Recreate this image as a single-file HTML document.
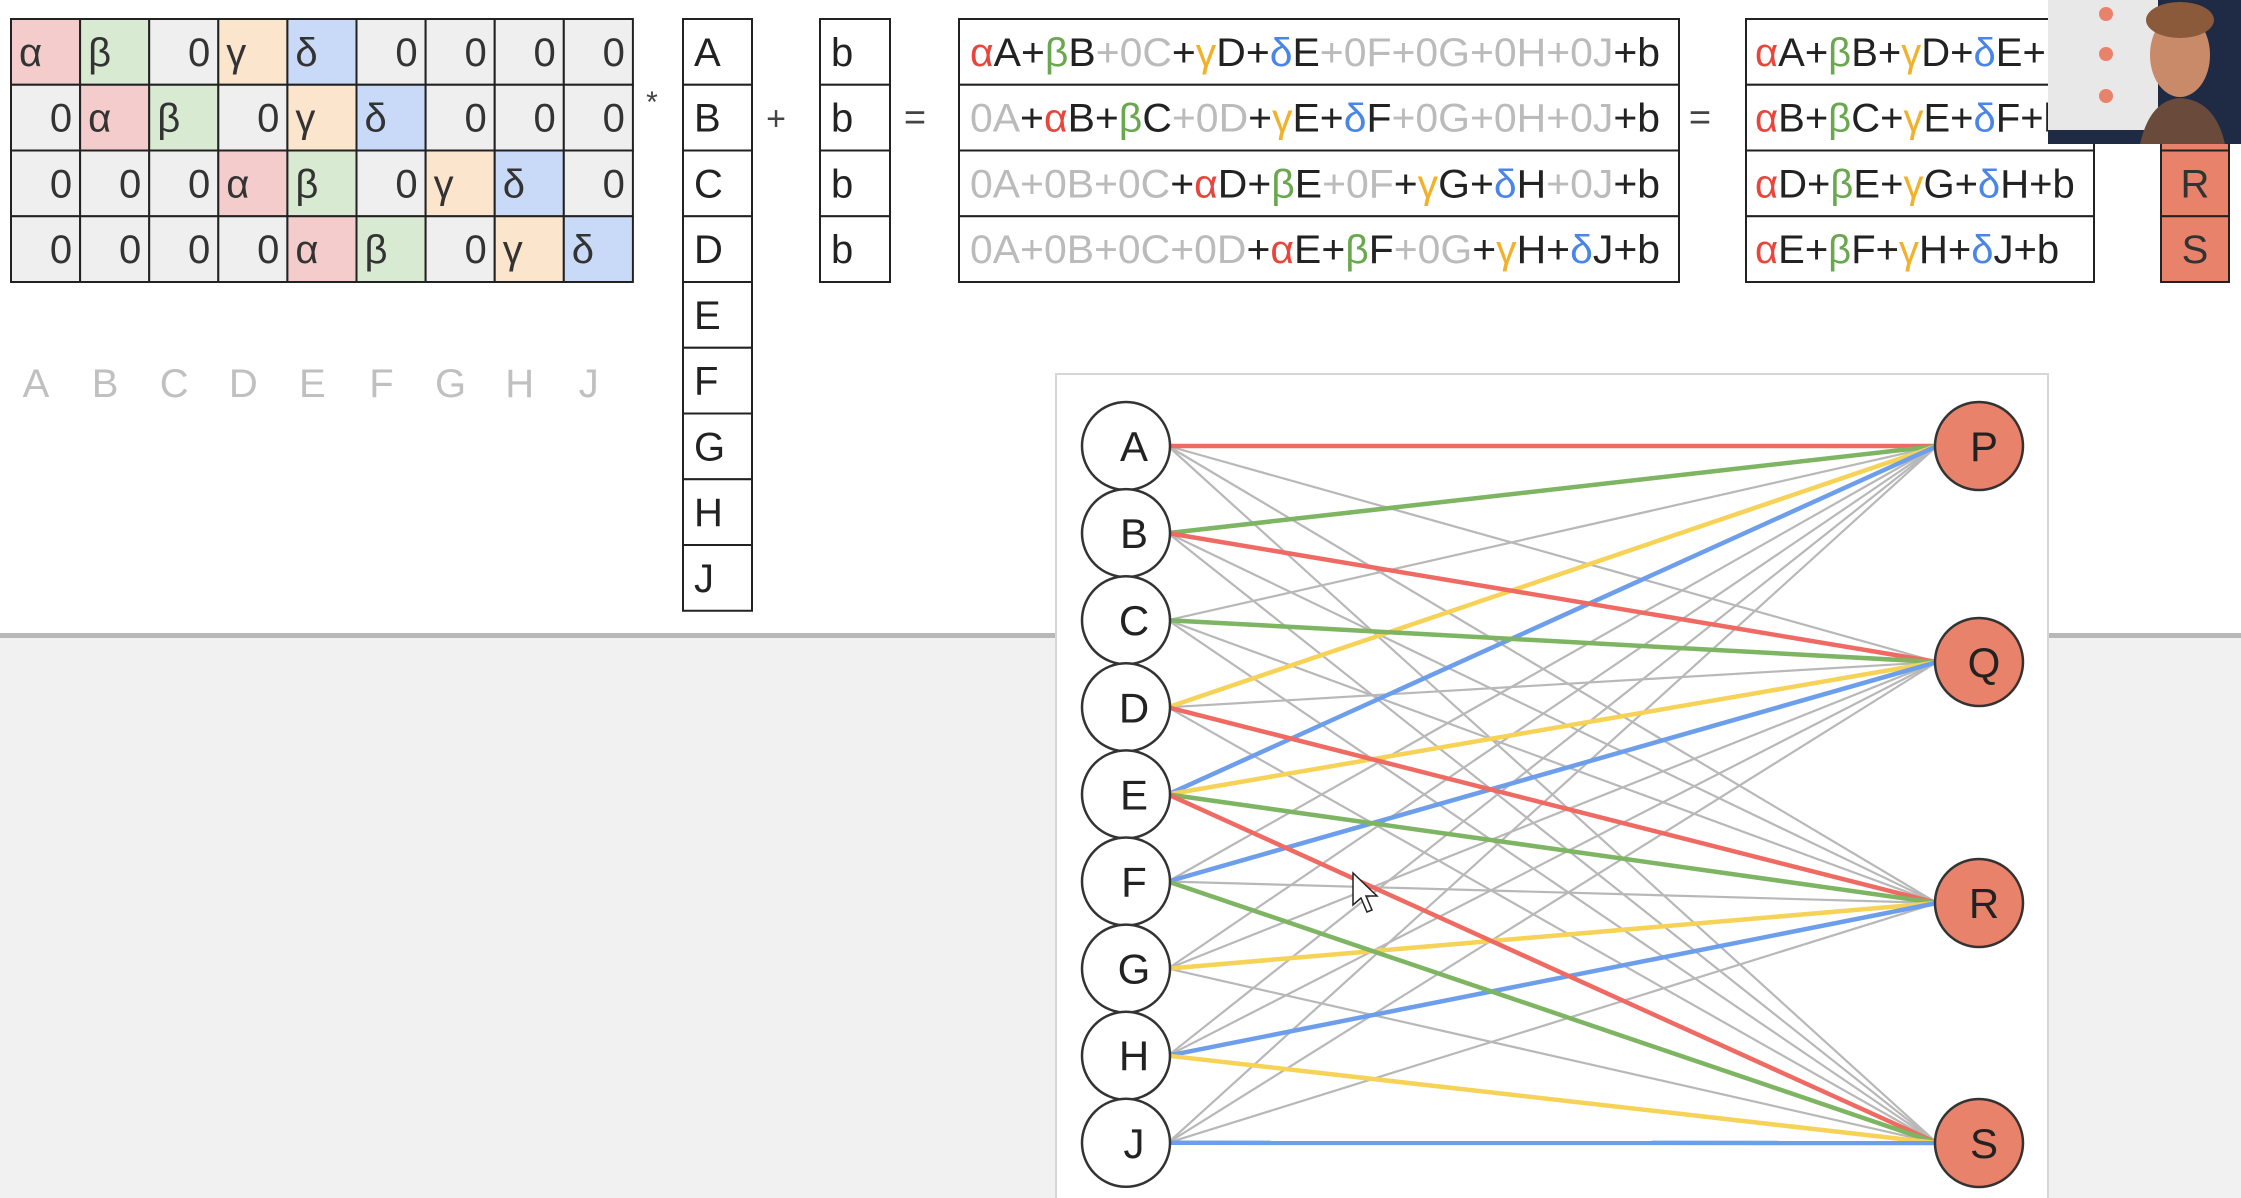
<!DOCTYPE html>
<html><head><meta charset="utf-8">
<style>
html,body{margin:0;padding:0;width:2241px;height:1198px;overflow:hidden;background:#fff;}
svg{display:block;font-family:"Liberation Sans","DejaVu Sans",sans-serif;}
</style></head>
<body>
<svg id="s" width="2241" height="1198" viewBox="0 0 2241 1198" xmlns="http://www.w3.org/2000/svg">
  <rect x="0" y="0" width="2241" height="636" fill="#ffffff"/>
  <rect x="0" y="636" width="2241" height="562" fill="#f1f1f1"/>
  <rect x="0" y="633" width="2241" height="5" fill="#b8b8b8"/>
  <g id="topg"></g>
  <rect x="1056" y="374" width="992" height="830" fill="#ffffff" stroke="#d6d6d6" stroke-width="2"/>
  <g id="graph"></g>
  <g>
    <rect x="2048" y="0" width="193" height="144" fill="#1f2a44"/>
    <rect x="2048" y="0" width="110" height="130" fill="#e8e8e8"/>
    <circle cx="2106" cy="14" r="7" fill="#e8826a"/>
    <circle cx="2106" cy="54" r="7" fill="#e8826a"/>
    <circle cx="2106" cy="96" r="7" fill="#e8826a"/>
    <ellipse cx="2180" cy="55" rx="30" ry="42" fill="#c98a6a"/>
    <path d="M2140 144 Q2150 100 2180 98 Q2215 100 2225 144 Z" fill="#6a4a3a"/>
    <ellipse cx="2180" cy="20" rx="34" ry="18" fill="#8a5a3a"/>
  </g>
</svg>
<script>
const cols = ["A","B","C","D","E","F","G","H","J"];
const outs = ["P","Q","R","S"];
// weight matrix: 0 = zero, 1=alpha, 2=beta, 3=gamma, 4=delta
const weights = [
  [1,2,0,3,4,0,0,0,0],
  [0,1,2,0,3,4,0,0,0],
  [0,0,0,1,2,0,3,4,0],
  [0,0,0,0,1,2,0,3,4]
];
const sym = ["0","α","β","γ","δ"];
const txtCol = ["#bbbbbb","#e8453c","#6aa84f","#f1b12a","#4a86e8"];
const cellBg = ["#efefef","#f4cccc","#d9ead3","#fce5cd","#c9daf8"];
const lineCol = ["#b8b8b8","#ef6a62","#7db563","#f6d256","#6d9eeb"];

const NS = "http://www.w3.org/2000/svg";
function mk(tag, attrs, parent, text){
  const e = document.createElementNS(NS, tag);
  for (const k in attrs) e.setAttribute(k, attrs[k]);
  if (text !== undefined) e.textContent = text;
  parent.appendChild(e);
  return e;
}
const topG = document.getElementById('topg');
const FS = 40;
const mx = 11, my = 19, cw = 69.1, rh = 65.75;
weights.forEach((row, r) => {
  row.forEach((w, c) => {
    const x = mx + c*cw, y = my + r*rh;
    const rc = mk('rect', {x:x, y:y, width:cw, height:rh, fill:cellBg[w], stroke:"#222", "stroke-width":2}, topG);
    
    
    const t = mk('text', {x: w===0 ? x+cw-8 : x+8, y: y+rh/2+14, "font-size":FS, fill:"#333", "text-anchor": w===0 ? "end" : "start"}, topG, sym[w]);
    
    
  });
});
cols.forEach((c, i) => {
  const t = mk('text', {x: mx + i*cw + 25, y: 397, "font-size":FS, fill:"#c0c0c0", "text-anchor":"middle"}, topG, c);
  
  
});
[[652,112,"*",30],[776,130,"+",34],[915,130,"=",38],[1700,130,"=",38]].forEach(o=>{
  const t = mk('text', {x:o[0], y:o[1], "font-size":o[3], fill:"#444", "text-anchor":"middle"}, topG, o[2]);
  
  
});
cols.forEach((c, i) => {
  const y = my + i*rh;
  const r = mk('rect', {x:683, y:y, width:69, height:rh, fill:"#fff", stroke:"#222", "stroke-width":2}, topG);
  
  
  const t = mk('text', {x:694, y:y+rh/2+14, "font-size":FS, fill:"#222"}, topG, c);
  
  
});
weights.forEach((row, r) => {
  const y = my + r*rh;
  const b = mk('rect', {x:820, y:y, width:70, height:rh, fill:"#fff", stroke:"#222", "stroke-width":2}, topG);
  
  
  const bt = mk('text', {x:831, y:y+rh/2+14, "font-size":FS, fill:"#222"}, topG, "b");
  
  
  const eb = mk('rect', {x:959, y:y, width:720, height:rh, fill:"#fff", stroke:"#222", "stroke-width":2}, topG);
  
  
  const et = mk('text', {x:970, y:y+rh/2+14, "font-size":FS, textLength:690, lengthAdjust:"spacingAndGlyphs"}, topG);
  
  
  const sb = mk('rect', {x:1746, y:y, width:348, height:rh, fill:"#fff", stroke:"#222", "stroke-width":2}, topG);
  
  
  const st = mk('text', {x:1755, y:y+rh/2+14, "font-size":FS}, topG);
  
  
  let firstE = true, firstS = true;
  row.forEach((w, c) => {
    const tc = w===0 ? "#bbbbbb" : "#222";
    if (!firstE) mk('tspan', {fill: tc}, et, "+");
    mk('tspan', {fill: txtCol[w]}, et, sym[w]);
    mk('tspan', {fill: tc}, et, cols[c]);
    firstE = false;
    if (w !== 0) {
      if (!firstS) mk('tspan', {fill:"#222"}, st, "+");
      mk('tspan', {fill: txtCol[w]}, st, sym[w]);
      mk('tspan', {fill:"#222"}, st, cols[c]);
      firstS = false;
    }
  });
  mk('tspan', {fill:"#222"}, et, "+b");
  mk('tspan', {fill:"#222"}, st, "+b");
  const ob = mk('rect', {x:2161, y:y, width:68, height:rh, fill:"#e8826a", stroke:"#222", "stroke-width":2}, topG);
  
  
  const ot = mk('text', {x:2195, y:y+rh/2+14, "font-size":FS, fill:"#333", "text-anchor":"middle"}, topG, outs[r]);
  
  
});

const gg = document.getElementById('graph');
const lx = 1126, rxp = 1979, nr = 44;
const ly = i => 446 + i*87.1;
const ryPos = [446, 662, 903, 1143];
const edges = mk('g', {}, gg);


[false, true].forEach(colored => {
  weights.forEach((row, r) => {
    row.forEach((w, c) => {
      if ((w !== 0) !== colored) return;
      const l = mk('line', {x1:lx+nr-2, y1:ly(c), x2:rxp-nr+2, y2:ryPos[r], stroke:lineCol[w], "stroke-width": w ? 4.5 : 2.2}, edges);
      
      
    });
  });
});
cols.forEach((c, i) => {
  const ci = mk('circle', {cx:lx, cy:ly(i), r:nr, fill:"#fff", stroke:"#333", "stroke-width":2.5}, gg);
  
  
  const t = mk('text', {x:lx+8, y:ly(i)+15, "font-size":42, fill:"#222", "text-anchor":"middle"}, gg, c);
  
  
});
outs.forEach((o, i) => {
  const ci = mk('circle', {cx:rxp, cy:ryPos[i], r:nr, fill:"#e8826a", stroke:"#333", "stroke-width":2.5}, gg);
  
  
  const t = mk('text', {x:rxp+5, y:ryPos[i]+15, "font-size":42, fill:"#222", "text-anchor":"middle"}, gg, o);
  
  
});
const cur = mk('path', {d:"M1353 873 L1353 905 L1361 898 L1367 912 L1372 910 L1366 896 L1377 896 Z", fill:"#fff", stroke:"#222", "stroke-width":1.5}, gg);


</script>
</body></html>
